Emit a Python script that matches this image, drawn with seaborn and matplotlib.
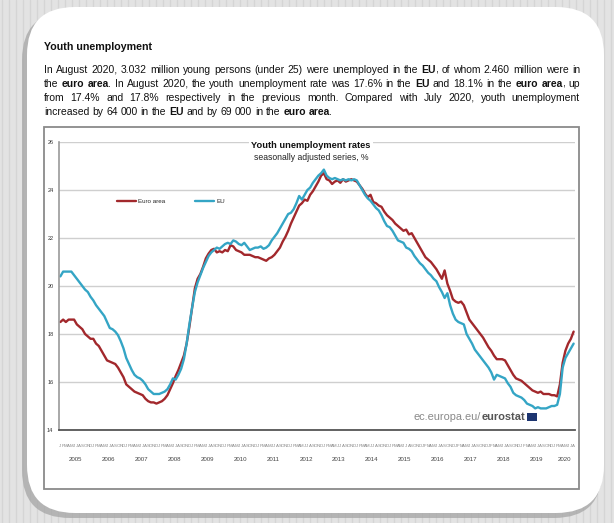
import matplotlib
matplotlib.use("Agg")
import matplotlib.pyplot as plt
import matplotlib.transforms as mtransforms
from matplotlib.patches import FancyBboxPatch, Rectangle
import numpy as np
import pandas as pd
import seaborn as sns

years = list(range(2005, 2021))
month_letters = ["J", "F", "M", "A", "M", "J", "J", "A", "S", "O", "N", "D"]
series_names = ["Euro area", "EU"]

# monthly rates, Jan 2005 .. Aug 2020
euro_area = [
    18.5, 18.6, 18.5, 18.6, 18.6, 18.6, 18.4, 18.3, 18.2, 18.0, 17.9, 17.8,
    17.8, 17.6, 17.5, 17.3, 17.1, 16.9, 16.85, 16.8, 16.75, 16.6, 16.4, 16.2,
    15.9, 15.8, 15.7, 15.6, 15.55, 15.5, 15.45, 15.3, 15.2, 15.15, 15.15, 15.1,
    15.15, 15.2, 15.3, 15.45, 15.7, 15.95, 16.25, 16.5, 16.8, 17.1, 17.6, 18.3,
    19.1, 19.9, 20.3, 20.5, 20.8, 21.15, 21.35, 21.5, 21.55, 21.4, 21.45, 21.4,
    21.5, 21.45, 21.7, 21.65, 21.5, 21.45, 21.4, 21.3, 21.3, 21.3, 21.25, 21.2,
    21.2, 21.15, 21.1, 21.05, 21.15, 21.2, 21.3, 21.45, 21.6, 21.85, 22.05, 22.3,
    22.6, 22.85, 23.1, 23.35, 23.45, 23.6, 23.55, 23.8, 23.95, 24.15, 24.35, 24.6,
    24.7, 24.45, 24.4, 24.25, 24.35, 24.4, 24.3, 24.45, 24.35, 24.4, 24.45, 24.4,
    24.35, 24.2, 24.05, 23.85, 23.7, 23.8, 23.5, 23.45, 23.35, 23.3, 23.1, 22.95,
    22.85, 22.75, 22.6, 22.5, 22.4, 22.3, 22.35, 22.15, 22.2, 22.0, 21.8, 21.6,
    21.4, 21.2, 21.1, 21.0, 20.85, 20.7, 20.5, 20.3, 20.65, 20.1, 19.8, 19.45,
    19.35, 19.3, 19.35, 19.2, 18.9, 18.6, 18.45, 18.3, 18.15, 18.0, 17.85, 17.65,
    17.45, 17.3, 17.1, 16.95, 16.95, 16.95, 16.9, 16.7, 16.5, 16.3, 16.15, 16.1,
    16.05, 15.95, 15.85, 15.75, 15.65, 15.6, 15.55, 15.6, 15.5, 15.5, 15.5, 15.45,
    15.45, 15.4, 15.9, 16.8, 17.3, 17.6, 17.8, 18.1,
]
eu = [
    20.4, 20.6, 20.6, 20.6, 20.6, 20.45, 20.3, 20.15, 20.0, 19.85, 19.75, 19.55,
    19.4, 19.2, 19.05, 18.9, 18.75, 18.5, 18.25, 18.2, 18.1, 17.95, 17.7, 17.4,
    17.0, 16.75, 16.5, 16.3, 16.2, 16.15, 16.05, 15.9, 15.7, 15.6, 15.5, 15.5,
    15.5, 15.55, 15.6, 15.7, 15.9, 16.15, 16.1, 16.3, 16.55, 16.95, 17.6, 18.4,
    19.1, 19.75, 20.15, 20.45, 20.75, 21.0, 21.25, 21.4, 21.5, 21.6, 21.55, 21.65,
    21.75, 21.8, 21.75, 21.9, 21.85, 21.75, 21.7, 21.8, 21.65, 21.5, 21.55, 21.6,
    21.6, 21.65, 21.55, 21.6, 21.7, 21.9, 22.05, 22.2, 22.4, 22.6, 22.8, 23.0,
    23.05, 23.2, 23.45, 23.75, 23.6, 23.8, 24.0, 24.1, 24.3, 24.45, 24.6, 24.7,
    24.85, 24.6, 24.5, 24.45, 24.5, 24.45, 24.4, 24.45, 24.4, 24.45, 24.4, 24.45,
    24.4, 24.2, 24.0, 23.8, 23.65, 23.55, 23.4, 23.25, 23.15, 22.95, 22.7, 22.5,
    22.45, 22.3, 22.1, 21.9, 21.85, 21.8, 21.6, 21.55, 21.45, 21.25, 21.1, 20.95,
    20.85, 20.7, 20.55, 20.45, 20.3, 20.2, 19.95, 19.75, 19.5, 19.7, 19.2, 18.85,
    18.6, 18.5, 18.45, 18.4, 18.0, 17.8, 17.6, 17.35, 17.2, 17.05, 16.9, 16.75,
    16.6, 16.4, 16.1, 16.3, 16.25, 16.2, 16.15, 15.95, 15.8, 15.55, 15.45, 15.4,
    15.35, 15.25, 15.1, 15.05, 15.0, 14.9, 14.95, 14.9, 14.9, 14.9, 14.95, 15.0,
    15.0, 15.05, 15.5, 16.6, 17.0, 17.2, 17.4, 17.6,
]

heading = "Youth unemployment"
# paragraph lines, bold pieces marked with *
para_lines = [
    "In August 2020, 3.032 million young persons (under 25) were unemployed in the *EU*, of whom 2.460 million were in",
    "the *euro* *area*. In August 2020, the youth unemployment rate was 17.6% in the *EU* and 18.1% in the *euro* *area*, up",
    "from 17.4% and 17.8% respectively in the previous month. Compared with July 2020, youth unemployment",
    "increased by 64 000 in the *EU* and by 69 000 in the *euro* *area*.",
]

W, H = 614, 523
sns.set_theme(style="white")
plt.rcParams["font.family"] = ["Liberation Sans", "DejaVu Sans"]

fig = plt.figure(figsize=(W / 100, H / 100), dpi=100)
fig.patch.set_facecolor("#e3e3e3")

# background layer in pixel coordinates
bg = fig.add_axes([0, 0, 1, 1])
bg.set_xlim(0, W)
bg.set_ylim(H, 0)
bg.axis("off")
for sx in np.arange(2, W, 7):
    bg.axvline(sx, color="#d5d5d5", lw=1, zorder=0)
bg.add_patch(FancyBboxPatch((22, 12), 580, 506, boxstyle="round,pad=0,rounding_size=48",
                            facecolor="#a9a9a9", edgecolor="none", alpha=0.8, zorder=1))
bg.add_patch(FancyBboxPatch((27, 7), 577, 506, boxstyle="round,pad=0,rounding_size=48",
                            facecolor="white", edgecolor="none", zorder=2))
bg.add_patch(Rectangle((44, 127), 535, 362, facecolor="white", edgecolor="#8a8a8a", lw=1.3, zorder=3))

renderer = fig.canvas.get_renderer()


def text_width(txt, size, bold=False):
    t = bg.text(0, 0, txt, fontsize=size, weight="bold" if bold else "normal")
    w = t.get_window_extent(renderer).width
    t.remove()
    return w


bg.text(44, 47, heading, fontsize=7.7, weight="bold", va="center", color="#111", zorder=4)


def split_pieces(word):
    pieces = []
    parts = word.split("*")
    for k, p in enumerate(parts):
        if p:
            pieces.append((p, k % 2 == 1))
    return pieces


para_size = 7.5
x_left, x_right = 44, 580
line_y = [70, 84, 98, 112]
space_w = text_width("a a", para_size) - text_width("aa", para_size)

for li, line in enumerate(para_lines):
    words = [split_pieces(w) for w in line.split(" ")]
    widths = []
    for w in words:
        widths.append(sum(text_width(txt, para_size, b) for txt, b in w) - 0.8 * (len(w) - 1))
    if li < len(para_lines) - 1:
        gap = (x_right - x_left - sum(widths)) / (len(words) - 1)
    else:
        gap = space_w
    x = x_left
    for w, ww in zip(words, widths):
        xx = x
        for txt, b in w:
            t = bg.text(xx, line_y[li], txt, fontsize=para_size, weight="bold" if b else "normal",
                        va="center", color="#111", zorder=4)
            xx += t.get_window_extent(renderer).width - 0.8
        x += ww + gap

# chart
ax = fig.add_axes([59 / W, 1 - 430 / H, (575 - 59) / W, (430 - 142) / H])
ax.set_facecolor("none")

n = len(euro_area)
df = pd.DataFrame({
    "pos": np.concatenate([np.arange(n) + 0.5, np.arange(n) + 0.5]),
    "rate": euro_area + eu,
    "series": [series_names[0]] * n + [series_names[1]] * n,
})
sns.lineplot(data=df, x="pos", y="rate", hue="series", hue_order=series_names,
             palette={"Euro area": "#a2282c", "EU": "#34a5c5"}, linewidth=1.7, ax=ax)

ax.set_xlim(0, n)
ax.set_ylim(14, 26)
ax.set_yticks(range(14, 27, 2))
ax.yaxis.grid(True, color="#cfcfcf", lw=1)
ax.set_xlabel("")
ax.set_ylabel("")
ax.tick_params(axis="y", length=0, labelsize=4, pad=4, labelcolor="#333")
for s in ["top", "right"]:
    ax.spines[s].set_visible(False)
ax.spines["left"].set_color("#9a9a9a")
ax.spines["left"].set_linewidth(1.2)
ax.spines["bottom"].set_color("#555")
ax.spines["bottom"].set_linewidth(1.3)

year_bounds = list(range(0, n, 12)) + [n]
ax.set_xticks(year_bounds)
ax.set_xticklabels([])
ax.set_xticks(np.arange(n), minor=True)
ax.tick_params(axis="x", which="major", length=23, width=1.0, color="#555", direction="out")
ax.tick_params(axis="x", which="minor", length=4, width=0.6, color="#666", direction="out")

trans = mtransforms.blended_transform_factory(ax.transData, ax.transAxes)
for i in range(n):
    ax.text(i + 0.5, -0.055, month_letters[i % 12], transform=trans, fontsize=3.2,
            ha="center", va="center", color="#888", clip_on=False)
for k, yr in enumerate(years):
    x0, x1 = year_bounds[k], year_bounds[k + 1]
    ax.text((x0 + x1) / 2, -0.102, str(yr), transform=trans, fontsize=4.4,
            ha="center", va="center", color="#444", clip_on=False)

# chart titles and source, drawn over the gridlines
ax.text(311, 146, "Youth unemployment rates", transform=bg.transData, fontsize=6.7, weight="bold",
        ha="center", va="center", color="#111", zorder=6, clip_on=False,
        bbox=dict(facecolor="white", edgecolor="none", pad=1.5))
ax.text(311, 157, "seasonally adjusted series, %", transform=bg.transData, fontsize=6.2,
        ha="center", va="center", color="#222", zorder=6, clip_on=False)
t_es = ax.text(525, 417, "eurostat", transform=bg.transData, fontsize=7.9, weight="bold",
               ha="right", va="center", color="#555", zorder=6, clip_on=False)
es_w = t_es.get_window_extent(renderer).width
ax.text(525 - es_w, 417, "ec.europa.eu/", transform=bg.transData, fontsize=7.9, ha="right",
        va="center", color="#8a8a8a", zorder=6, clip_on=False)
bg.add_patch(Rectangle((527, 413), 10, 8, facecolor="#1d3570", edgecolor="none", zorder=4))

handles, labels = ax.get_legend_handles_labels()
ax.legend(handles, labels, loc="center left", bbox_to_anchor=(0.112, 0.795), ncol=2,
          frameon=False, fontsize=4.5, handlelength=3, columnspacing=4.8, handletextpad=0.4,
          borderaxespad=0, borderpad=0)

fig.savefig("out.png", dpi=100, facecolor=fig.get_facecolor())
